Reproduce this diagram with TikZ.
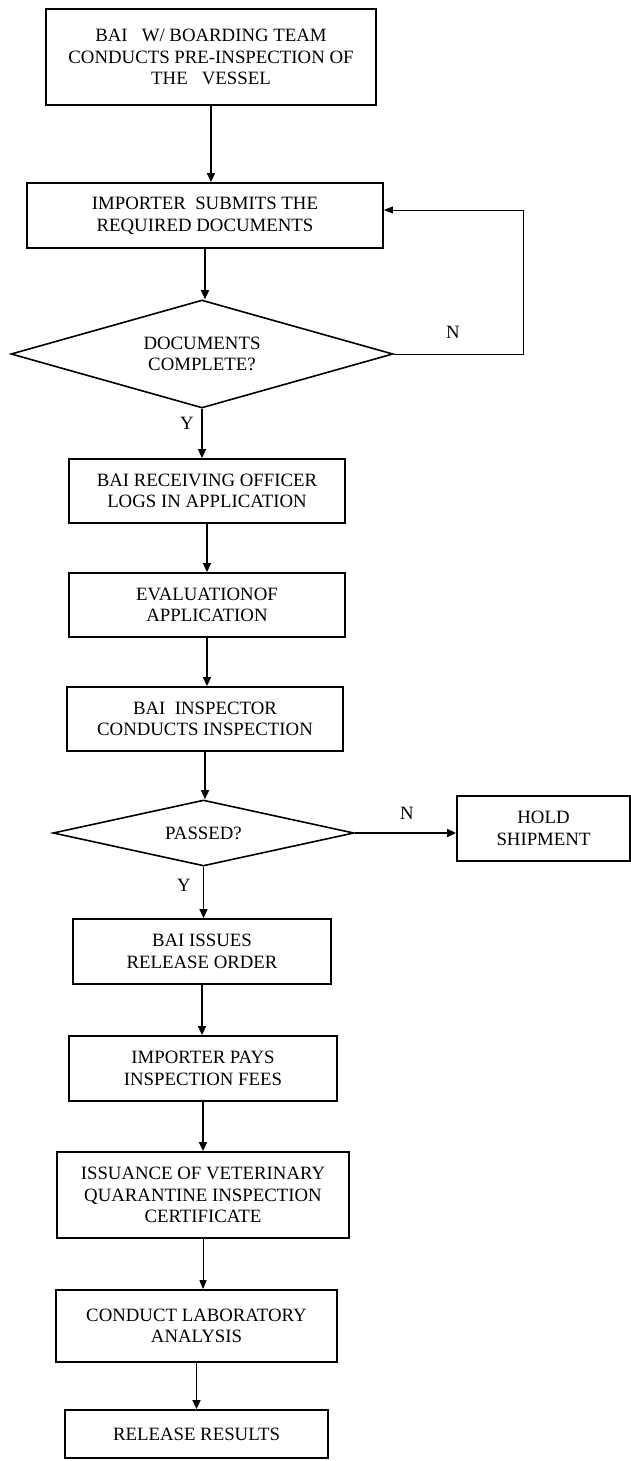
\documentclass[tikz,border=0pt]{standalone}
\usepackage{fontspec}
\setmainfont{Liberation Serif}
\usetikzlibrary{arrows.meta, positioning}
\usetikzlibrary{shapes.geometric}

\begin{document}
\begin{tikzpicture}[
			x=1pt, y=-1pt,
			every node/.style={font=\fontsize{18.8}{21.6}\selectfont},
			stepbox/.style={rectangle, draw, line width=1.8pt, align=center, inner sep=0pt},
			query/.style={diamond, draw, line width=1.6pt, align=center, inner sep=0pt},
			edge/.style={-{Triangle[length=9pt, width=8pt]}, line width=1.5pt},
			thinedge/.style={-{Triangle[length=9pt, width=7pt]}, line width=0.9pt}
			]
			\useasboundingbox (0,0) rectangle (631,1461);
			
			% ---------------- DOCUMENTS ----------------
			\node[stepbox, minimum width=330, minimum height=96] (pre) at (211,57)
				{BAI\ \ \ W/ BOARDING TEAM\\CONDUCTS PRE-INSPECTION OF\\THE\ \ \ VESSEL};
			\node[stepbox, minimum width=356, minimum height=65] (submit) at (205,215.5)
				{IMPORTER\ \ SUBMITS THE\\REQUIRED DOCUMENTS};
			\node[query, aspect=3.54, minimum width=382, minimum height=108] (docs) at (202,354)
				{DOCUMENTS\\COMPLETE?};
			\node[stepbox, minimum width=276, minimum height=64] (logs) at (207,491)
				{BAI RECEIVING OFFICER\\LOGS IN APPLICATION};
			\node[stepbox, minimum width=276, minimum height=64] (evalu) at (207,605)
				{EVALUATIONOF\\APPLICATION};
			\node[stepbox, minimum width=276, minimum height=64] (insp) at (205,719)
				{BAI\ \ INSPECTOR\\CONDUCTS INSPECTION};
			
			% ---------------- INSPECTION ----------------
			\node[query, aspect=4.56, minimum width=301, minimum height=66] (passed) at (203.5,833)
				{PASSED?};
			\node[stepbox, minimum width=173, minimum height=65] (hold) at (543.5,828.5)
				{HOLD\\SHIPMENT};
			\node[stepbox, minimum width=258, minimum height=65] (order) at (202,951.5)
				{BAI ISSUES\\RELEASE ORDER};
			\node[stepbox, minimum width=268, minimum height=65] (fees) at (203,1068.5)
				{IMPORTER PAYS\\INSPECTION FEES};
			\node[stepbox, minimum width=292, minimum height=86] (cert) at (203,1195)
				{ISSUANCE OF VETERINARY\\QUARANTINE INSPECTION\\CERTIFICATE};
			\node[stepbox, minimum width=281, minimum height=72] (lab) at (196.5,1326)
				{CONDUCT LABORATORY\\ANALYSIS};
			\node[stepbox, minimum width=263, minimum height=48] (results) at (196.5,1434)
				{RELEASE RESULTS};
			
			% ---------------- CONNECTORS ----------------
			\draw[edge] (pre.south) -- (pre.south |- submit.north);
			\draw[edge] (submit.south) -- (submit.south |- docs.north);
			\draw[edge] (docs.south) -- (docs.south |- logs.north);
			\draw[edge] (logs.south) -- (logs.south |- evalu.north);
			\draw[edge] (evalu.south) -- (evalu.south |- insp.north);
			\draw[edge] (insp.south) -- (insp.south |- passed.north);
			\draw[edge] (passed.east) -- (passed.east -| hold.west);
			\draw[edge] (passed.south) -- (passed.south |- order.north);
			\draw[edge] (order.south) -- (order.south |- fees.north);
			\draw[edge] (fees.south) -- (fees.south |- cert.north);
			\draw[thinedge] (cert.south) -- (cert.south |- lab.north);
			\draw[edge] (lab.south) -- (lab.south |- results.north);
			
			\coordinate (back) at (523,210);
			\draw[thinedge] (docs.east) -| (back) -- (back -| submit.east);
			
			\node (docsno) at (453,332) {N};
			\node (docsyes) at (187,423) {Y};
			\node (passno) at (407,813) {N};
			\node (passyes) at (184,885) {Y};
			
		\end{tikzpicture}
\end{document}
